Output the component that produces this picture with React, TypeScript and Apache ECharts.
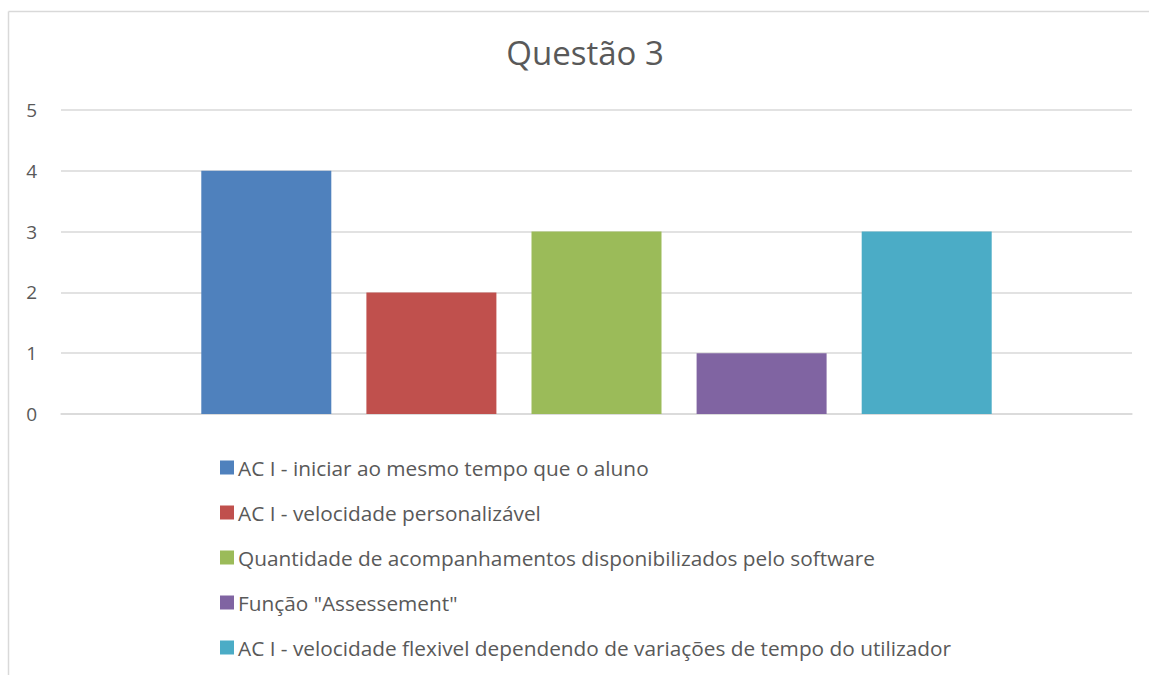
import React, { useEffect, useRef } from "react";
import * as echarts from "echarts";

const categories = [""];
const seriesNames = [
  "AC I - iniciar ao mesmo tempo que o aluno",
  "AC I - velocidade personalizável",
  "Quantidade de acompanhamentos disponibilizados pelo software",
  "Função \"Assessement\"",
  "AC I - velocidade flexivel dependendo de variações de tempo do utilizador",
];
const seriesValues = [4, 2, 3, 1, 3];
const seriesColors = ["#4F81BD", "#C0504D", "#9BBB59", "#8064A2", "#4BACC6"];
const yTicks = { min: 0, max: 5, interval: 1 };

const FONT = "'Open Sans', sans-serif";

export default function App() {
  const ref = useRef<HTMLDivElement>(null);
  useEffect(() => {
    if (!ref.current) return;
    document.body.style.margin = "0";
    document.body.style.overflow = "hidden";
    const chart = echarts.init(ref.current, undefined, { renderer: "svg" });
    chart.setOption({
      animation: false,
      backgroundColor: "#ffffff",
      title: {
        text: "Questão 3",
        left: 580,
        top: 31,
        textAlign: "center",
        textStyle: { fontFamily: FONT, fontSize: 33, fontWeight: "normal", color: "#595959" },
      },
      graphic: [
        {
          type: "line",
          shape: { x1: 8.5, y1: 11.5, x2: 1149, y2: 11.5 },
          style: { stroke: "#d9d9d9", lineWidth: 1.5 },
          silent: true,
        },
        {
          type: "line",
          shape: { x1: 8.5, y1: 11.5, x2: 8.5, y2: 675 },
          style: { stroke: "#d9d9d9", lineWidth: 1.5 },
          silent: true,
        },
      ],
      legend: {
        orient: "vertical",
        left: 215,
        top: 452,
        itemWidth: 14,
        itemHeight: 14,
        itemGap: 24,
        icon: "rect",
        textStyle: { fontFamily: FONT, fontSize: 20.8, color: "#595959", padding: [0, 0, 0, -1] },
        data: seriesNames,
      },
      grid: { left: 61, right: 17, top: 110, height: 304, containLabel: false },
      xAxis: {
        type: "category",
        data: categories,
        axisLine: { lineStyle: { color: "#d9d9d9", width: 1.5 } },
        axisTick: { show: false },
        axisLabel: { show: false },
      },
      yAxis: {
        type: "value",
        min: yTicks.min,
        max: yTicks.max,
        interval: yTicks.interval,
        axisLine: { show: false },
        axisTick: { show: false },
        axisLabel: { fontFamily: FONT, fontSize: 19, color: "#595959", margin: 24 },
        splitLine: { lineStyle: { color: "#d9d9d9", width: 1.5 } },
      },
      series: seriesNames.map((name, i) => ({
        name,
        type: "bar",
        data: [seriesValues[i]],
        barWidth: 130,
        barGap: "27%",
        itemStyle: { color: seriesColors[i] },
      })),
    });
    return () => chart.dispose();
  }, []);
  return <div ref={ref} style={{ width: 1149, height: 675 }} />;
}
